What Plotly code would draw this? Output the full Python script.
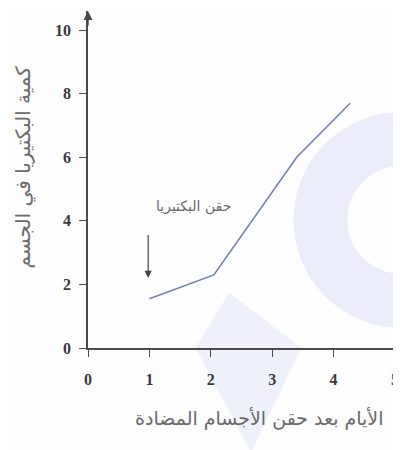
import plotly.graph_objects as go

# bacteria in body vs days after antibody injection
days = [1.0, 2.05, 3.4, 4.27]
bacteria = [1.55, 2.3, 6.0, 7.7]

x_ticks = [0, 1, 2, 3, 4, 5]
y_ticks = [0, 2, 4, 6, 8, 10]

x_title = "الأيام بعد حقن الأجسام المضادة"
y_title = "كمية البكتيريا في الجسم"
note = "حقن البكتيريا"

axis_col = "#4a4a4a"
tick_font = dict(family="Liberation Serif", size=16, color="#3a3a3a", weight="bold")
ar_col = "#6a6a6a"

fig = go.Figure()
fig.add_trace(go.Scatter(x=days, y=bacteria, mode="lines",
    line=dict(color="#7183b0", width=1.6), showlegend=False, hoverinfo="skip"))

# page body has an 8px margin, so the figure is 8px smaller than the window
fig.update_layout(
  width=393, height=442,
  margin=dict(l=80, r=3, t=3, b=102, autoexpand=False),
  paper_bgcolor="#fefdfe", plot_bgcolor="rgba(0,0,0,0)",
  shapes=[
    # faint watermark behind the chart
    dict(type="circle", xref="paper", yref="paper", x0=0.75, x1=1.27, y0=0.14, y1=0.62,
      line=dict(color="rgba(222,228,246,0.6)", width=54), layer="below"),
    dict(type="path", xref="paper", yref="paper",
      path="M 0.455 0.165 L 0.688 0.0 L 0.526 -0.31 L 0.347 0.0 Z",
      fillcolor="rgba(226,231,246,0.55)", line=dict(width=0), layer="below"),
  ],
)

fig.update_xaxes(range=[0, 5.05], tickvals=x_ticks, ticks="outside", ticklen=7, tickcolor=axis_col,
    showline=True, linecolor=axis_col, linewidth=1.5, showgrid=False, zeroline=False,
    tickfont=tick_font, ticklabelstandoff=9, ticklabeloverflow="allow", automargin=False)
fig.update_yaxes(range=[0, 10.6], tickvals=y_ticks, ticks="outside", ticklen=7, tickcolor=axis_col,
    showline=True, linecolor=axis_col, linewidth=1.5, showgrid=False, zeroline=False,
    tickfont=tick_font, ticklabelstandoff=5, automargin=False)

# arrow tip on y axis
fig.add_annotation(x=0, y=10.6, ax=0, ay=10.1, axref="x", ayref="y", xref="x", yref="y",
    text="", showarrow=True, arrowhead=2, arrowsize=1.2, arrowwidth=1.5, arrowcolor=axis_col)

# injection note and arrow
fig.add_annotation(x=1.72, y=4.45, text=note, showarrow=False,
    font=dict(family="DejaVu Sans", size=14, color=ar_col))
fig.add_annotation(x=0.98, y=2.2, ax=0.98, ay=3.6, axref="x", ayref="y", xref="x", yref="y",
    text="", showarrow=True, arrowhead=2, arrowsize=1.2, arrowwidth=1.2, arrowcolor="#444444")

# axis titles
fig.add_annotation(x=0.552, y=-0.208, xref="paper", yref="paper", text=x_title, showarrow=False,
    xanchor="center", yanchor="middle", font=dict(family="DejaVu Sans", size=19, color=ar_col))
fig.add_annotation(x=-0.208, y=0.537, xref="paper", yref="paper", text=y_title, showarrow=False,
    xanchor="center", yanchor="middle", textangle=-90,
    font=dict(family="DejaVu Sans", size=20, color=ar_col))

fig.write_html("out.html")
